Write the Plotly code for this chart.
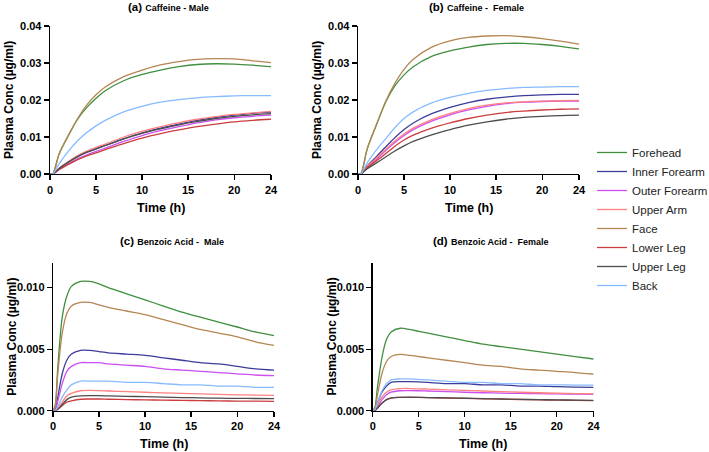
import plotly.graph_objects as go

# ---------------- data ----------------
series = ["Forehead", "Inner Forearm", "Outer Forearm", "Upper Arm", "Face", "Lower Leg", "Upper Leg", "Back"]
colors = {
    "Forehead": "#3f8f3f",
    "Inner Forearm": "#3c3c9c",
    "Outer Forearm": "#cc4ff0",
    "Upper Arm": "#ff8080",
    "Face": "#b58552",
    "Lower Leg": "#cc3d3d",
    "Upper Leg": "#4d4d4d",
    "Back": "#86bbff",
}

time_caf = [0, 0.3, 1, 2, 3, 4, 5, 6, 8, 10, 12, 14, 16, 18, 20, 22, 24]
time_ba = [0, 0.25, 0.5, 1, 1.5, 2, 3, 4, 5, 6, 8, 10, 12, 14, 16, 18, 20, 22, 24]

caf_male = {
    "Forehead":      [0, 0, 0.0055, 0.0104, 0.0148, 0.0180, 0.0205, 0.0225, 0.0252, 0.0269, 0.0281, 0.0290, 0.0296, 0.0298, 0.0297, 0.0294, 0.0290],
    "Inner Forearm": [0, 0, 0.0015, 0.0032, 0.0047, 0.0059, 0.0068, 0.0077, 0.0095, 0.0111, 0.0124, 0.0135, 0.0145, 0.0153, 0.0159, 0.0164, 0.0167],
    "Outer Forearm": [0, 0, 0.0012, 0.0027, 0.0041, 0.0052, 0.0061, 0.0070, 0.0088, 0.0104, 0.0117, 0.0128, 0.0138, 0.0146, 0.0152, 0.0156, 0.0159],
    "Upper Arm":     [0, 0, 0.0016, 0.0034, 0.0050, 0.0062, 0.0072, 0.0081, 0.0100, 0.0116, 0.0128, 0.0139, 0.0148, 0.0155, 0.0161, 0.0165, 0.0169],
    "Face":          [0, 0, 0.0055, 0.0105, 0.0150, 0.0187, 0.0214, 0.0235, 0.0263, 0.0281, 0.0295, 0.0304, 0.0310, 0.0312, 0.0311, 0.0306, 0.0301],
    "Lower Leg":     [0, 0, 0.0012, 0.0026, 0.0039, 0.0049, 0.0057, 0.0066, 0.0082, 0.0097, 0.0109, 0.0119, 0.0128, 0.0135, 0.0141, 0.0145, 0.0148],
    "Upper Leg":     [0, 0, 0.0015, 0.0032, 0.0047, 0.0059, 0.0068, 0.0077, 0.0095, 0.0110, 0.0122, 0.0133, 0.0142, 0.0150, 0.0156, 0.0160, 0.0163],
    "Back":          [0, 0, 0.0028, 0.0062, 0.0090, 0.0112, 0.0130, 0.0145, 0.0168, 0.0183, 0.0194, 0.0201, 0.0206, 0.0209, 0.0211, 0.0212, 0.0212],
}

caf_female = {
    "Forehead":      [0, 0, 0.0068, 0.0133, 0.0194, 0.0238, 0.0268, 0.0290, 0.0318, 0.0333, 0.0343, 0.0350, 0.0353, 0.0353, 0.0350, 0.0345, 0.0338],
    "Inner Forearm": [0, 0, 0.0022, 0.0047, 0.0073, 0.0098, 0.0120, 0.0138, 0.0163, 0.0180, 0.0193, 0.0202, 0.0208, 0.0212, 0.0214, 0.0215, 0.0215],
    "Outer Forearm": [0, 0, 0.0018, 0.0040, 0.0063, 0.0085, 0.0104, 0.0120, 0.0143, 0.0160, 0.0173, 0.0183, 0.0190, 0.0194, 0.0196, 0.0197, 0.0197],
    "Upper Arm":     [0, 0, 0.0020, 0.0043, 0.0066, 0.0089, 0.0108, 0.0124, 0.0147, 0.0164, 0.0177, 0.0186, 0.0192, 0.0195, 0.0197, 0.0198, 0.0199],
    "Face":          [0, 0, 0.0068, 0.0133, 0.0196, 0.0245, 0.0283, 0.0310, 0.0343, 0.0360, 0.0369, 0.0373, 0.0374, 0.0371, 0.0366, 0.0359, 0.0351],
    "Lower Leg":     [0, 0, 0.0017, 0.0036, 0.0055, 0.0075, 0.0092, 0.0105, 0.0124, 0.0138, 0.0150, 0.0159, 0.0166, 0.0170, 0.0173, 0.0175, 0.0176],
    "Upper Leg":     [0, 0, 0.0014, 0.0030, 0.0046, 0.0062, 0.0076, 0.0088, 0.0106, 0.0120, 0.0132, 0.0141, 0.0148, 0.0153, 0.0156, 0.0158, 0.0159],
    "Back":          [0, 0, 0.0030, 0.0065, 0.0095, 0.0125, 0.0150, 0.0168, 0.0192, 0.0207, 0.0218, 0.0226, 0.0231, 0.0234, 0.0235, 0.0236, 0.0236],
}

ba_male = {
    "Forehead":      [0, 0.0005, 0.0033, 0.0076, 0.0093, 0.0101, 0.0105, 0.0105, 0.0103, 0.0100, 0.0095, 0.0090, 0.0085, 0.0080, 0.0076, 0.0072, 0.0068, 0.0064, 0.0061],
    "Inner Forearm": [0, 0.0001, 0.0010, 0.0030, 0.0041, 0.0046, 0.0049, 0.0049, 0.0048, 0.0047, 0.0046, 0.0045, 0.0043, 0.0041, 0.0039, 0.0038, 0.0036, 0.0034, 0.0033],
    "Outer Forearm": [0, 0.0001, 0.0007, 0.0022, 0.0032, 0.0036, 0.0039, 0.0039, 0.0039, 0.0038, 0.0037, 0.0036, 0.0034, 0.0033, 0.0032, 0.0031, 0.0030, 0.0029, 0.00285],
    "Upper Arm":     [0, 0, 0.0002, 0.0007, 0.0012, 0.0014, 0.00162, 0.00165, 0.00163, 0.0016, 0.00155, 0.0015, 0.00145, 0.0014, 0.00136, 0.00132, 0.00129, 0.00127, 0.00125],
    "Face":          [0, 0.0004, 0.0028, 0.0063, 0.0079, 0.0085, 0.0088, 0.0088, 0.0086, 0.0084, 0.0081, 0.0078, 0.0074, 0.0070, 0.0066, 0.0063, 0.0060, 0.0056, 0.0053],
    "Lower Leg":     [0, 0, 0.0001, 0.0004, 0.0007, 0.0008, 0.00093, 0.00095, 0.00095, 0.00093, 0.0009, 0.00088, 0.00086, 0.00084, 0.00082, 0.0008, 0.00078, 0.00077, 0.00076],
    "Upper Leg":     [0, 0, 0.0001, 0.0005, 0.0009, 0.0011, 0.0012, 0.00122, 0.00122, 0.0012, 0.00117, 0.00114, 0.0011, 0.00107, 0.00104, 0.00102, 0.001, 0.00099, 0.00098],
    "Back":          [0, 0, 0.0003, 0.0011, 0.0017, 0.0021, 0.0024, 0.0024, 0.0024, 0.0024, 0.0023, 0.0023, 0.0022, 0.0021, 0.0021, 0.0020, 0.0020, 0.0019, 0.0019],
}

ba_female = {
    "Forehead":      [0, 0.0003, 0.0018, 0.0043, 0.0058, 0.0064, 0.0067, 0.0066, 0.00645, 0.0063, 0.0060, 0.0057, 0.0054, 0.0052, 0.0050, 0.0048, 0.0046, 0.0044, 0.0042],
    "Inner Forearm": [0, 0.0001, 0.0006, 0.0015, 0.0020, 0.0023, 0.00236, 0.00236, 0.00234, 0.0023, 0.0022, 0.0022, 0.0021, 0.0021, 0.0020, 0.0020, 0.00195, 0.00192, 0.0019],
    "Outer Forearm": [0, 0, 0.0003, 0.0009, 0.0013, 0.0015, 0.00162, 0.00163, 0.00162, 0.0016, 0.00155, 0.0015, 0.00146, 0.00143, 0.0014, 0.00138, 0.00136, 0.00134, 0.00133],
    "Upper Arm":     [0, 0, 0.0004, 0.0011, 0.0015, 0.0017, 0.0018, 0.0018, 0.00178, 0.00175, 0.0017, 0.00165, 0.0016, 0.00155, 0.0015, 0.00146, 0.00142, 0.00139, 0.00136],
    "Face":          [0, 0.0002, 0.0012, 0.0030, 0.0040, 0.0044, 0.00457, 0.0045, 0.0044, 0.0043, 0.0041, 0.0039, 0.0037, 0.0036, 0.0034, 0.0033, 0.0032, 0.0031, 0.00296],
    "Lower Leg":     [0, 0, 0.0002, 0.0006, 0.0009, 0.00103, 0.00108, 0.00109, 0.00108, 0.00106, 0.00103, 0.001, 0.00097, 0.00094, 0.00091, 0.00088, 0.00086, 0.00084, 0.00082],
    "Upper Leg":     [0, 0, 0.0002, 0.0006, 0.0009, 0.00104, 0.00109, 0.0011, 0.00109, 0.00107, 0.00104, 0.00101, 0.00098, 0.00095, 0.00092, 0.0009, 0.00088, 0.00086, 0.00084],
    "Back":          [0, 0.0001, 0.0006, 0.0016, 0.0022, 0.0025, 0.00258, 0.00258, 0.00255, 0.0025, 0.0024, 0.0023, 0.0023, 0.0022, 0.0022, 0.0021, 0.0021, 0.00208, 0.00207],
}

x_ticks = [0, 5, 10, 15, 20, 24]
caf_ticks = [0, 0.01, 0.02, 0.03, 0.04]
ba_ticks = [0, 0.005, 0.010]

panel_titles = [
    ("(a)", "Caffeine - Male"),
    ("(b)", "Caffeine -  Female"),
    ("(c)", "Benzoic Acid -  Male"),
    ("(d)", "Benzoic Acid -  Female"),
]
y_title = "Plasma Conc (µg/ml)"
x_title = "Time (h)"

# ---------------- layout geometry (pixels) ----------------
W, H = 709, 452
FONT = "Liberation Sans, Arial, sans-serif"

def px_x(a, b):
    return [a / W, b / W]

def px_y(top, bottom):
    return [(H - bottom) / H, (H - top) / H]

panels = [
    dict(data=caf_male, t=time_caf, xd=px_x(50, 271), yd=px_y(26, 174), yr=[0, 0.04], yt=caf_ticks, fmt=".2f"),
    dict(data=caf_female, t=time_caf, xd=px_x(358, 579), yd=px_y(26, 174), yr=[0, 0.04], yt=caf_ticks, fmt=".2f"),
    dict(data=ba_male, t=time_ba, xd=px_x(53, 274), yd=px_y(263, 410.7), yr=[0, 0.012], yt=ba_ticks, fmt=".3f"),
    dict(data=ba_female, t=time_ba, xd=px_x(372.7, 593.6), yd=px_y(263, 410.7), yr=[0, 0.012], yt=ba_ticks, fmt=".3f"),
]

fig = go.Figure()
layout = dict(
    width=W, height=H,
    margin=dict(l=0, r=0, t=0, b=0, autoexpand=False),
    paper_bgcolor="white", plot_bgcolor="white",
    font=dict(family=FONT, color="black"),
    showlegend=True,
    legend=dict(
        x=592 / W, y=(H - 138) / H, xanchor="left", yanchor="top",
        font=dict(family=FONT, size=11.5, color="#222222"),
        bgcolor="rgba(0,0,0,0)", borderwidth=0,
        itemwidth=30, tracegroupgap=0,
    ),
)
annotations = []

for i, p in enumerate(panels):
    k = "" if i == 0 else str(i + 1)
    xa, ya = "x" + k, "y" + k
    for s in series:
        fig.add_trace(go.Scatter(
            x=p["t"], y=p["data"][s], mode="lines", name=s,
            line=dict(color=colors[s], width=1.3, shape="spline", smoothing=0.8),
            xaxis=xa, yaxis=ya, legendgroup=s, showlegend=(i == 0),
            hoverinfo="skip",
        ))
    axis_common = dict(
        showline=True, linecolor="black", linewidth=1.3,
        ticks="outside", ticklen=5, tickwidth=1.3, tickcolor="black",
        showgrid=False, zeroline=False,
        tickfont=dict(family=FONT, size=11, color="black", weight="bold"),
    )
    layout["xaxis" + k] = dict(
        domain=p["xd"], range=[0, 24], anchor=ya,
        tickmode="array", tickvals=x_ticks, ticktext=[str(v) for v in x_ticks],
        **axis_common,
    )
    layout["yaxis" + k] = dict(
        domain=p["yd"], range=p["yr"], anchor=xa,
        tickmode="array", tickvals=p["yt"], ticktext=[format(v, p["fmt"]) for v in p["yt"]],
        **axis_common,
    )
    # axis titles
    x0, x1 = p["xd"][0] * W, p["xd"][1] * W
    ytop = H - p["yd"][1] * H
    ybot = H - p["yd"][0] * H
    annotations.append(dict(
        text=x_title, xref="paper", yref="paper",
        x=(x0 + x1) / 2 / W, y=(H - (ybot + 33.5)) / H,
        showarrow=False, font=dict(family=FONT, size=12.5, color="black", weight="bold"),
        xanchor="center", yanchor="middle",
    ))
    annotations.append(dict(
        text=y_title, xref="paper", yref="paper",
        x=(x0 - 41) / W, y=(H - (ytop + ybot) / 2) / H, textangle=-90,
        showarrow=False, font=dict(family=FONT, size=12, color="black", weight="bold"),
        xanchor="center", yanchor="middle",
    ))
    lab, ttl = panel_titles[i]
    ty = 7 if i < 2 else 241
    annotations.append(dict(
        text="<b>" + lab + "</b> <b><span style='font-size:9px'>" + ttl + "</span></b>",
        xref="paper", yref="paper",
        x=((x0 + x1) / 2 + 8) / W, y=(H - ty) / H,
        showarrow=False, font=dict(family=FONT, size=11.5, color="black"),
        xanchor="center", yanchor="middle",
    ))

layout["annotations"] = annotations
fig.update_layout(**layout)
fig.write_html(
    "out.html",
    config={"displayModeBar": False, "staticPlot": True},
    post_script="document.body.style.margin='0px';document.body.style.overflow='hidden';",
)
